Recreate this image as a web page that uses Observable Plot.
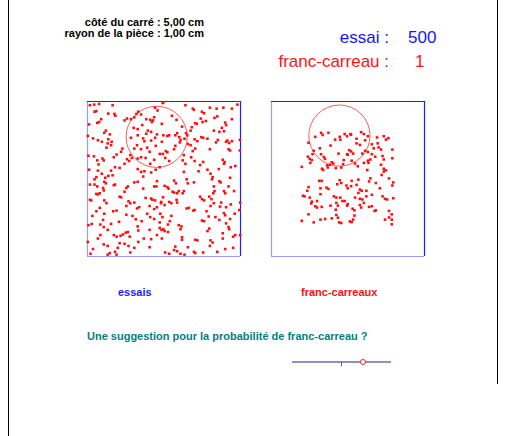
<!DOCTYPE html>
<html><head><meta charset="utf-8">
<script src="https://cdn.jsdelivr.net/npm/d3@7"></script>
<script src="https://cdn.jsdelivr.net/npm/@observablehq/plot@0.6"></script>
<style>
body{margin:0;background:#fff;}
#page{position:relative;width:506px;height:436px;overflow:hidden;background:#fff;font-family:"Liberation Sans",Arial,sans-serif;}
#chart{position:absolute;left:0;top:0;}
.t{position:absolute;white-space:nowrap;line-height:1;}
.b{font-weight:bold;font-size:11px;}
.big{font-size:17px;}
</style></head><body>
<div id="page">
  <div id="chart"></div>
  <div class="t b" style="right:302px;top:16.5px;color:#000">côté du carré : 5,00 cm</div>
  <div class="t b" style="right:302px;top:28px;color:#000">rayon de la pièce : 1,00 cm</div>
  <div class="t big" style="right:117px;top:29px;color:#1414ff">essai :</div>
  <div class="t big" style="left:408px;top:29px;color:#1414ff">500</div>
  <div class="t big" style="right:117px;top:52.5px;color:#ff1414">franc-carreau :</div>
  <div class="t big" style="left:415px;top:52.5px;color:#ff1414">1</div>
  <div class="t b" style="left:118px;top:286.5px;color:#1e1eff">essais</div>
  <div class="t b" style="left:301px;top:286.5px;color:#ff1010">franc-carreaux</div>
  <div class="t b" style="left:87px;top:331px;color:#008080">Une suggestion pour la probabilité de franc-carreau ?</div>
  <div style="position:absolute;left:292px;top:361px;width:99px;height:2px;background:#8e8ec8"></div>
  <div style="position:absolute;left:341px;top:362px;width:1px;height:4px;background:#5a5a90"></div>
  <div style="position:absolute;left:360px;top:359px;width:4px;height:4px;border:1px solid #ff2020;border-radius:50%;background:#fff"></div>
  <div style="position:absolute;left:8px;top:0;width:1px;height:436px;background:#000"></div>
  <div style="position:absolute;left:497px;top:0;width:1px;height:384px;background:#000"></div>
</div>
<script>
// panels
const panels = ["essais", "franc-carreaux"];
// square side and coin radius, in mm
const squareSide = 50;
const coinRadius = 10;
// last coin centre in each panel [x, y from top], mm
const coinCenters = [[22.6, 11.4], [22.2, 11.0]];
// all trials: coin centre [x, y from top], mm
const essais = [
[0.8,1.2],[2.2,1.0],[3.8,0.8],[8.2,1.2],[24.7,0.4],[2.9,3.1],[2.3,3.3],[6.8,3.9],[8.8,4.0],[9.1,4.6],[3.8,6.6],[3.2,6.9],[4.5,5.7],[5.5,10.1],[6.0,9.4],[7.3,10.6],[6.8,12.2],[7.9,13.0],[7.7,14.1],[6.6,13.5],[6.2,14.9],[0.5,7.4],[0.1,11.1],[1.8,11.9],[3.4,12.5],[4.7,13.0],[0.3,17.5],[2.1,17.7],[3.2,19.0],[3.6,20.3],[4.9,18.4],[5.3,19.0],[8.6,18.0],[9.5,17.1],[11.0,16.2],[11.4,15.2],[12.9,18.6],[13.6,19.2],[12.1,20.1],[10.5,21.4],[9.0,21.2],[7.7,22.3],[0.5,22.0],[3.4,22.3],[4.7,23.3],[6.8,24.0],[8.2,23.8],[12.1,6.1],[12.9,5.5],[14.2,5.7],[15.3,5.1],[16.0,4.0],[16.6,3.3],[17.5,4.2],[19.2,5.7],[20.5,5.9],[21.0,6.6],[21.4,6.1],[21.8,5.1],[22.9,2.9],[22.1,2.0],[15.1,8.5],[16.4,8.9],[17.9,7.6],[19.7,9.4],[19.2,10.4],[20.8,9.8],[14.2,11.7],[16.4,10.9],[18.2,11.9],[18.6,12.8],[20.8,12.6],[22.1,11.7],[22.7,10.6],[16.2,14.1],[15.3,15.2],[17.5,15.4],[19.5,14.9],[20.3,16.2],[22.3,14.3],[23.6,16.9],[14.0,17.3],[14.5,18.2],[16.4,18.4],[17.5,18.0],[19.0,18.2],[21.8,18.8],[20.5,20.1],[16.4,21.8],[17.5,22.7],[18.6,22.5],[18.2,24.2],[20.8,22.9],[22.3,22.0],[23.6,21.2],[2.9,24.4],[5.8,24.6],
[24.6,0.5],[32.0,1.2],[34.4,2.3],[34.8,2.7],[37.4,3.3],[38.1,3.8],[40.0,2.0],[42.2,2.3],[44.4,2.0],[47.2,2.3],[49.0,1.0],[37.0,5.5],[35.2,7.0],[35.7,7.2],[34.1,8.3],[33.7,9.4],[37.6,6.6],[38.7,6.3],[41.5,5.3],[42.4,4.8],[45.0,6.8],[45.3,7.6],[47.2,5.7],[43.9,8.5],[43.1,9.8],[44.6,9.6],[41.3,9.4],[37.2,11.5],[37.8,11.7],[35.9,12.8],[35.0,12.2],[33.7,14.1],[34.4,16.0],[35.2,15.2],[39.2,12.0],[40.0,15.4],[42.0,13.2],[42.6,12.4],[45.3,13.0],[45.7,12.6],[46.3,13.4],[47.2,12.8],[46.1,15.4],[46.6,15.8],[49.8,12.4],[49.8,15.8],[32.6,10.9],[31.7,12.0],[32.8,13.7],[31.5,17.3],[31.1,19.0],[32.0,20.1],[33.9,18.0],[35.0,19.2],[36.8,20.5],[36.3,22.5],[37.8,19.5],[39.2,22.0],[40.2,23.3],[40.9,24.4],[42.9,21.8],[44.2,18.8],[44.8,19.5],[44.6,20.1],[46.8,21.2],[48.3,20.8],[31.5,22.7],[24.3,7.2],[24.8,10.9],[26.1,11.1],[26.7,10.9],[28.7,10.9],[29.3,10.2],[30.0,11.5],[30.4,12.4],[30.2,13.2],[28.7,14.3],[28.3,15.4],[25.6,16.0],[26.1,16.4],[24.6,16.9],[25.4,18.2],[26.7,19.2],[30.9,8.1],[32.2,10.2],[29.1,5.9],[27.6,4.6],[24.3,13.0],
[2.3,25.1],[5.5,25.9],[6.0,26.4],[0.8,26.8],[2.3,26.8],[3.2,27.4],[5.1,27.9],[5.3,28.7],[2.9,29.8],[4.0,29.6],[3.4,30.0],[8.6,27.0],[9.0,26.8],[12.1,29.1],[12.7,27.9],[13.2,27.4],[15.3,26.1],[16.4,25.9],[18.2,28.1],[22.7,25.7],[22.5,27.4],[21.8,27.4],[0.8,31.7],[1.2,31.9],[5.5,31.9],[6.2,32.8],[10.5,30.7],[11.0,30.9],[13.4,32.2],[14.0,32.8],[12.7,33.7],[15.3,32.6],[16.2,34.5],[19.0,31.1],[20.8,31.3],[21.2,31.7],[22.1,31.9],[24.7,30.9],[24.0,32.8],[16.9,34.1],[20.3,33.7],[21.8,34.7],[22.7,34.1],[4.0,34.3],[2.9,35.4],[1.6,36.9],[5.5,36.2],[5.1,38.2],[8.4,35.4],[9.5,35.2],[12.7,36.5],[14.7,36.9],[15.8,38.0],[17.7,38.6],[19.5,36.2],[20.5,37.3],[21.8,37.9],[23.8,36.2],[24.5,37.3],[23.6,39.0],[1.4,39.5],[4.2,39.7],[5.3,40.5],[6.6,41.4],[7.7,39.5],[10.3,38.8],[0.3,39.9],[0.1,45.3],[8.6,43.1],[9.5,43.6],[10.8,43.3],[11.6,42.9],[12.5,42.3],[13.2,42.1],[13.8,43.6],[16.4,40.3],[16.6,41.6],[20.3,41.4],[22.7,43.1],[23.6,40.8],[24.2,41.4],[18.4,44.2],[20.8,44.4],[10.5,45.7],[9.9,47.2],[9.0,48.5],[9.5,49.4],[12.1,45.9],[13.4,46.6],[15.3,47.2],[16.6,45.3],[5.3,46.1],[6.6,46.6],[1.8,47.6],[1.0,49.1],[7.3,48.9],[6.6,49.4],[14.0,48.7],[20.3,47.0],[3.4,44.2],[4.2,43.1],
[25.2,27.2],[26.1,27.6],[26.5,28.1],[28.3,25.5],[28.9,26.4],[32.4,25.1],[32.8,26.4],[34.8,26.1],[40.7,25.1],[43.1,25.7],[43.5,26.1],[46.6,24.6],[27.8,29.1],[28.3,29.4],[29.3,29.6],[29.8,28.9],[31.1,29.6],[31.5,28.9],[36.8,30.7],[37.4,31.5],[38.1,31.9],[39.8,30.7],[40.5,31.5],[41.1,29.6],[41.5,28.9],[41.3,27.4],[44.6,28.9],[45.0,29.6],[46.1,27.4],[47.9,28.9],[24.1,32.4],[25.2,33.4],[26.7,32.4],[27.4,32.8],[29.1,31.7],[29.3,32.6],[32.4,34.5],[33.1,34.3],[34.6,35.2],[35.0,35.0],[38.9,35.4],[37.4,38.4],[38.1,38.6],[39.6,37.1],[40.2,33.7],[41.3,32.8],[43.3,33.9],[43.7,32.6],[45.3,34.1],[46.8,33.2],[44.6,36.0],[45.0,36.7],[46.6,37.9],[48.1,36.2],[49.6,35.0],[49.9,32.6],[41.8,37.3],[43.1,38.2],[45.3,39.3],[46.1,40.5],[46.3,41.2],[27.4,36.9],[26.9,38.6],[26.3,39.7],[29.8,39.9],[30.7,40.3],[30.4,41.2],[24.8,41.2],[25.2,41.8],[26.3,42.1],[24.3,44.2],[30.9,43.8],[30.9,44.6],[35.2,44.6],[35.9,44.8],[39.8,41.0],[39.2,41.8],[44.2,42.5],[44.2,44.2],[47.6,43.6],[48.3,43.1],[49.9,43.1],[40.2,44.8],[28.7,46.8],[28.3,47.9],[29.3,48.3],[25.4,48.7],[26.7,49.1],[32.8,47.0],[34.8,48.5],[35.2,48.9],[37.8,48.7],[40.0,46.6],[40.9,45.5],[42.4,48.5],[45.0,47.6],[47.6,47.2],[30.4,49.1],[31.7,49.4]
];
// franc-carreau trials: coin centre [x, y from top], mm
const francCarreaux = [
[16.2,10.1],[16.7,10.8],[14.3,11.4],[18.6,10.1],[20.8,12.3],[22.3,11.4],[22.5,12.3],[23.9,10.5],[24.7,11.2],[12.1,13.3],[19.3,14.2],[15.8,15.1],[13.8,15.9],[13.4,17.0],[21.9,16.8],[16.2,17.0],[17.1,17.9],[17.5,18.5],[11.9,17.8],[12.5,18.5],[13.2,18.9],[12.7,19.8],[19.7,19.6],[20.2,20.0],[19.1,20.4],[18.2,20.6],[18.4,21.3],[23.6,18.9],[24.7,17.0],[16.5,21.7],[16.9,22.1],[9.9,21.1],[21.0,21.5],[22.8,21.3],[23.4,20.2],
[25.8,10.5],[26.0,10.7],[29.3,9.9],[30.2,10.5],[30.6,12.5],[31.5,11.2],[27.8,12.0],[27.8,13.5],[28.9,14.0],[34.5,11.6],[36.7,11.2],[37.4,12.3],[38.2,11.8],[32.8,13.8],[34.7,13.5],[35.0,14.8],[35.8,15.5],[33.4,15.1],[39.5,15.5],[25.4,15.7],[26.0,16.1],[26.7,16.8],[24.9,17.2],[29.7,16.8],[30.6,15.9],[31.5,16.3],[32.8,17.0],[33.9,17.8],[32.3,18.7],[36.3,17.6],[36.7,18.7],[39.5,18.3],[26.2,19.1],[27.3,20.0],[28.2,20.9],[30.2,19.8],[31.5,19.1],[31.7,19.8],[35.8,20.4],[36.7,21.7],[37.4,22.2],[36.7,22.6],[31.3,22.1],[36.0,23.7],
[15.6,25.6],[16.4,25.6],[22.3,25.4],[22.8,26.3],[24.5,27.1],[24.9,28.0],[21.5,26.7],[12.1,27.6],[11.7,28.8],[16.0,28.0],[18.0,27.8],[18.6,28.2],[16.0,29.9],[10.3,30.4],[10.8,30.6],[12.5,31.0],[20.4,30.6],[21.2,31.0],[22.5,31.0],[13.2,32.3],[14.9,32.1],[13.0,32.9],[21.2,32.7],[23.2,32.1],[23.9,32.1],[14.3,33.8],[14.9,34.2],[16.4,34.0],[19.3,33.6],[21.7,33.6],[21.0,34.9],[24.7,33.6],[12.1,36.4],[16.0,38.1],[17.5,37.9],[19.7,37.7],[21.2,36.6],[21.7,37.5],[9.9,38.5],[13.8,39.0],[22.1,39.0],[22.8,39.2],
[26.2,25.6],[28.4,25.2],[32.3,24.8],[31.9,25.8],[34.1,26.3],[38.4,24.8],[39.8,26.1],[39.5,27.1],[35.4,28.0],[26.0,27.3],[27.8,26.9],[28.9,28.4],[29.5,28.8],[28.4,29.5],[31.0,28.8],[27.3,31.0],[28.9,31.4],[29.7,31.6],[30.2,32.7],[31.0,30.6],[32.8,30.1],[36.3,30.6],[37.1,31.4],[37.8,31.6],[39.8,31.2],[28.9,33.4],[29.3,34.2],[31.9,34.0],[32.8,33.8],[34.1,35.1],[33.7,35.3],[24.9,33.1],[26.5,34.6],[27.1,35.1],[38.4,35.3],[39.3,36.4],[38.4,37.4],[27.1,36.8],[26.7,38.1],[25.6,38.7],[26.2,38.9],[37.1,38.1],[39.3,38.1],[39.3,39.6]
];

const dots = [
  ...essais.map(([x, y]) => ({panel: panels[0], x, y})),
  ...francCarreaux.map(([x, y]) => ({panel: panels[1], x, y}))
];
const coins = coinCenters.map(([x, y], i) => ({panel: panels[i], x, y, r: coinRadius}));

const chart = Plot.plot({
  width: 506,
  height: 436,
  marginLeft: 87,
  marginRight: 82,
  marginTop: 101,
  marginBottom: 180,
  style: {background: "transparent"},
  x: {domain: [0, squareSide], axis: null},
  y: {domain: [0, squareSide], reverse: true, axis: null},
  fx: {domain: panels, paddingInner: 31 / 184, paddingOuter: 0, round: false, axis: null},
  r: {type: "linear", domain: [0, squareSide], range: [0, 153]},
  marks: [
    Plot.ruleY([squareSide], {stroke: "#9a9aff", strokeWidth: 1.2}),
    Plot.ruleX([0], {stroke: "#9a9aff", strokeWidth: 1.2}),
    Plot.ruleY([0], {stroke: "#1e1eff", strokeWidth: 1.2}),
    Plot.ruleX([squareSide], {stroke: "#1e1eff", strokeWidth: 1.2}),
    Plot.dot(coins, {fx: "panel", x: "x", y: "y", r: "r", stroke: "#ff5a5a", strokeWidth: 1, fill: "none"}),
    Plot.dot(dots, {fx: "panel", x: "x", y: "y", symbol: "square", r: 1.45, fill: "#ff0d0d", stroke: "none"})
  ]
});
document.getElementById("chart").appendChild(chart);
</script>
</body></html>
